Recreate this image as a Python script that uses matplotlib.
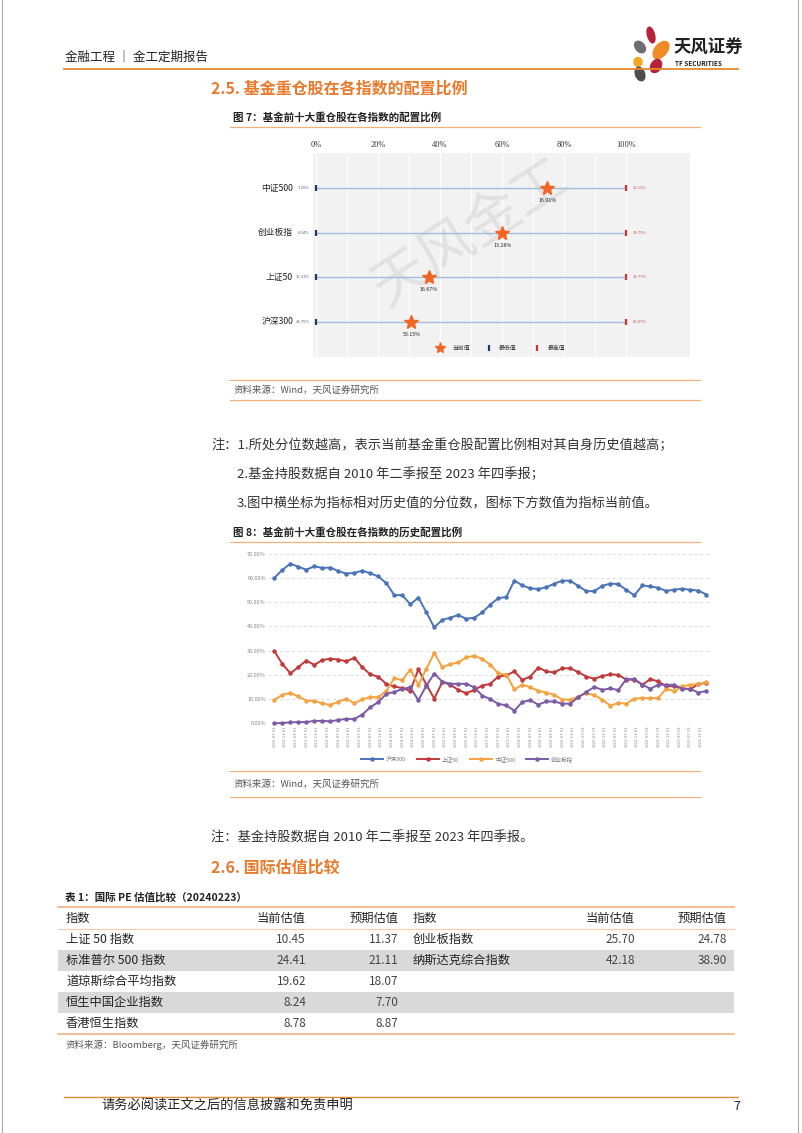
import matplotlib
matplotlib.use('Agg')
import matplotlib.pyplot as plt
import matplotlib.dates as mdates
from matplotlib.patches import Ellipse, Rectangle
import numpy as np
import pandas as pd

plt.rcParams['font.family'] = ['Noto Sans CJK SC', 'DejaVu Sans']

W, H = 802, 1133
ORANGE = '#E97A2B'
LINE_OR = '#F2B07E'
TXT = '#333333'

# ---- 图7 数据 ----
idx_names = ['中证500', '创业板指', '上证50', '沪深300']
pct_rank = [74.6, 60.1, 36.3, 30.8]          # 分位数 %
cur_txt = ['16.91%', '13.28%', '16.67%', '53.15%']
min_txt = ['7.29%', '0.24%', '10.33%', '39.75%']
max_txt = ['29.11%', '20.79%', '29.77%', '66.07%']

# ---- 图8 数据 (2010Q2 - 2023Q4, 季度) ----
dates = pd.date_range('2010-06-30', '2023-12-31', freq='QE')
hs300 = [60.0, 63.3, 65.9, 64.6, 63.4, 64.8, 64.1, 64.3, 62.8, 61.8, 62.1, 63.0, 61.9, 60.6,
         57.8, 52.9, 52.9, 49.1, 51.9, 45.9, 39.6, 42.7, 43.6, 44.7, 43.1, 43.6, 45.8, 49.0,
         51.6, 52.2, 58.9, 56.9, 55.7, 55.4, 56.2, 57.6, 58.9, 58.8, 56.7, 54.5, 54.6, 56.7,
         57.7, 57.4, 55.1, 52.8, 56.9, 56.5, 55.9, 54.6, 55.2, 55.5, 55.1, 54.8, 53.15]
sz50 = [29.8, 24.5, 20.6, 23.2, 25.9, 24.1, 26.1, 26.7, 26.3, 25.6, 27.0, 23.1, 20.2, 19.2,
        16.2, 15.2, 14.5, 13.4, 22.3, 16.0, 10.2, 17.0, 15.9, 13.8, 12.4, 13.8, 15.6, 16.3,
        19.3, 19.8, 21.4, 17.9, 19.3, 23.0, 21.4, 21.0, 22.7, 22.7, 21.1, 19.3, 18.4, 19.5,
        20.2, 20.0, 18.0, 18.0, 15.9, 18.2, 17.3, 15.3, 15.3, 14.5, 14.0, 16.2, 16.67]
zz500 = [9.6, 11.8, 12.5, 11.1, 9.4, 9.2, 8.2, 7.6, 8.9, 10.1, 8.2, 9.9, 10.8, 10.8,
         13.4, 18.6, 17.8, 22.2, 15.8, 22.4, 29.0, 23.2, 24.4, 25.1, 27.3, 27.8, 26.6, 24.2,
         20.6, 20.0, 14.0, 15.9, 14.9, 13.4, 12.7, 11.7, 9.8, 9.8, 11.0, 12.3, 11.7, 9.7,
         7.3, 8.4, 8.1, 10.2, 10.4, 10.4, 10.5, 14.3, 13.2, 15.2, 15.9, 16.2, 16.91]
cyb = [0.0, 0.1, 0.4, 0.5, 0.5, 1.0, 1.0, 0.8, 1.4, 1.8, 1.8, 3.6, 6.6, 8.8,
       12.2, 12.9, 14.2, 14.8, 9.5, 15.5, 20.5, 17.2, 16.3, 16.3, 16.3, 14.8, 11.4, 10.0,
       8.0, 7.4, 5.2, 8.8, 9.5, 7.7, 9.0, 9.0, 8.1, 8.1, 10.8, 12.9, 15.0, 13.8,
       14.4, 13.7, 18.2, 18.2, 16.0, 14.2, 15.9, 15.9, 15.9, 14.2, 14.2, 12.7, 13.28]
series_names = ['沪深300', '上证50', '中证500', '创业板指']
series_colors = ['#4A73B8', '#C0393B', '#F4A23F', '#7B5AA6']
tick_dates = pd.date_range('2010-07-01', '2023-11-01', freq='4MS')

# ---- 表1 数据 ----
tbl_head = ['指数', '当前估值', '预期估值', '指数', '当前估值', '预期估值']
left_names = ['上证 50 指数', '标准普尔 500 指数', '道琼斯综合平均指数', '恒生中国企业指数', '香港恒生指数']
left_cur = ['10.45', '24.41', '19.62', '8.24', '8.78']
left_fwd = ['11.37', '21.11', '18.07', '7.70', '8.87']
right_names = ['创业板指数', '纳斯达克综合指数']
right_cur = ['25.70', '42.18']
right_fwd = ['24.78', '38.90']


def box(x0, y0, x1, y1):
    return [x0 / W, 1 - y1 / H, (x1 - x0) / W, (y1 - y0) / H]


fig = plt.figure(figsize=(W / 100, H / 100), dpi=100)
pg = fig.add_axes([0, 0, 1, 1])
pg.set_xlim(0, W)
pg.set_ylim(H, 0)
pg.axis('off')

# 页边
pg.plot([2, 2], [0, H], color='#AAAAAA', lw=0.8)
pg.plot([798, 798], [0, H], color='#AAAAAA', lw=0.8)

# 页眉
pg.text(65, 57, '金融工程 ｜ 金工定期报告', fontsize=9, color='#222', va='center')
pg.plot([64, 738], [69, 69], color='#E8892F', lw=1.3)
for (cx, cy, w, h, a, c) in [(651, 35, 7, 16, -15, '#B5223A'), (661, 50, 12, 20, 40, '#F08A24'),
                             (640, 47, 9, 13, -40, '#6D6E71'), (638, 62, 8, 9, 0, '#F5A623'),
                             (656, 66, 10, 14, 30, '#B5223A'), (640, 74, 9, 14, -20, '#4D4D4F')]:
    pg.add_patch(Ellipse((cx, cy), w, h, angle=a, color=c))
pg.text(673, 48, '天风证券', fontsize=12.5, fontweight='bold', color='#231F20', va='center')
pg.text(675, 63, 'TF SECURITIES', fontsize=4.6, fontweight='bold', color='#231F20', va='center')

# 2.5 标题
pg.text(211, 89, '2.5. 基金重仓股在各指数的配置比例', fontsize=11.5, fontweight='bold', color=ORANGE, va='center')
pg.text(233, 117, '图 7：基金前十大重仓股在各指数的配置比例', fontsize=7.6, fontweight='bold', color='#222', va='center')
pg.plot([230, 700], [127, 127], color=LINE_OR, lw=0.9)
pg.plot([230, 700], [380, 380], color=LINE_OR, lw=0.9)
pg.text(233, 390, '资料来源：Wind，天风证券研究所', fontsize=6.8, color='#555', va='center')
pg.plot([230, 700], [400, 400], color=LINE_OR, lw=0.9)

# 注释
pg.text(211, 445, '注：1.所处分位数越高，表示当前基金重仓股配置比例相对其自身历史值越高；', fontsize=9.5, color=TXT, va='center')
pg.text(237, 474, '2.基金持股数据自 2010 年二季报至 2023 年四季报；', fontsize=9.5, color=TXT, va='center')
pg.text(237, 503, '3.图中横坐标为指标相对历史值的分位数，图标下方数值为指标当前值。', fontsize=9.5, color=TXT, va='center')

pg.text(233, 532, '图 8：基金前十大重仓股在各指数的历史配置比例', fontsize=7.6, fontweight='bold', color='#222', va='center')
pg.plot([230, 700], [542, 542], color=LINE_OR, lw=0.9)
pg.plot([230, 700], [771, 771], color=LINE_OR, lw=0.9)
pg.text(233, 784, '资料来源：Wind，天风证券研究所', fontsize=6.8, color='#555', va='center')
pg.plot([230, 700], [797, 797], color=LINE_OR, lw=0.9)

pg.text(211, 838, '注：基金持股数据自 2010 年二季报至 2023 年四季报。', fontsize=9.5, color=TXT, va='center')
pg.text(211, 868, '2.6. 国际估值比较', fontsize=11.5, fontweight='bold', color=ORANGE, va='center')
pg.text(65, 898, '表 1：国际 PE 估值比较（20240223）', fontsize=7.6, fontweight='bold', color='#222', va='center')

# 表1
tx0, tx1 = 58, 734
row_y = [939.5, 960.5, 981.5, 1002.5, 1023.5]
for i in (1, 3):
    pg.add_patch(Rectangle((tx0, row_y[i] - 10.5), tx1 - tx0, 21, color='#D9D9D9', lw=0))
pg.plot([tx0, tx1], [907, 907], color='#F4B183', lw=1.2)
pg.plot([tx0, tx1], [929, 929], color='#F8CBAD', lw=0.8)
pg.plot([tx0, tx1], [1034, 1034], color='#F4B183', lw=1.2)
col_x = [66, 306, 398, 413, 635, 727]
col_ha = ['left', 'right', 'right', 'left', 'right', 'right']
for x, ha, t in zip(col_x, col_ha, tbl_head):
    pg.text(x, 918, t, fontsize=8.8, color='#222', ha=ha, va='center')
for i in range(len(left_names)):
    pg.text(col_x[0], row_y[i], left_names[i], fontsize=8.8, color='#222', va='center')
    pg.text(col_x[1], row_y[i], left_cur[i], fontsize=8.5, color='#444', ha='right', va='center')
    pg.text(col_x[2], row_y[i], left_fwd[i], fontsize=8.5, color='#444', ha='right', va='center')
for i in range(len(right_names)):
    pg.text(col_x[3], row_y[i], right_names[i], fontsize=8.8, color='#222', va='center')
    pg.text(col_x[4], row_y[i], right_cur[i], fontsize=8.5, color='#444', ha='right', va='center')
    pg.text(col_x[5], row_y[i], right_fwd[i], fontsize=8.5, color='#444', ha='right', va='center')
pg.text(65, 1045, '资料来源：Bloomberg，天风证券研究所', fontsize=6.8, color='#555', va='center')

# 页脚
pg.plot([64, 738], [1097, 1097], color='#E8892F', lw=1.0)
pg.text(101, 1106, '请务必阅读正文之后的信息披露和免责申明', fontsize=9.5, color='#222', va='center')
pg.text(740, 1106, '7', fontsize=9, color='#222', ha='right', va='center')

# ---- 图7 ----
ax1 = fig.add_axes(box(312.7, 152.7, 690, 356.7))
ax1.set_facecolor('#F2F2F2')
ax1.set_xlim((312.7 - 316) / 3.1, (690 - 316) / 3.1)
ax1.set_ylim(3 + 35 / 44.4, -35.6 / 44.4)
for s in ax1.spines.values():
    s.set_visible(False)
ax1.xaxis.tick_top()
ax1.set_xticks(np.arange(0, 101, 20))
ax1.set_xticklabels([f'{v}%' for v in range(0, 101, 20)], fontfamily='Liberation Serif', fontsize=6, color='#333')
ax1.set_xticks(np.arange(10, 100, 20), minor=True)
ax1.tick_params(which='both', length=0, pad=2.5)
ax1.set_yticks([])
ax1.grid(axis='x', which='both', color='white', lw=0.8)
ax1.set_axisbelow(True)
rows = np.arange(len(idx_names))
ax1.hlines(rows, 0, 100, color='#A3BBDD', lw=1.0, zorder=2)
ax1.plot(np.zeros(4), rows, ls='none', marker='|', ms=5, mew=1.6, color='#1F3864', zorder=3, clip_on=False)
ax1.plot(np.full(4, 100), rows, ls='none', marker='|', ms=5, mew=1.6, color='#D0342C', zorder=3)
ax1.plot(pct_rank, rows, ls='none', marker='*', ms=10, color='#F26522', zorder=4)
for i in rows:
    ax1.text(pct_rank[i], i + 0.28, cur_txt[i], fontsize=3.8, color='#222', ha='center', va='center')
    ax1.text(-7.4, i, idx_names[i], fontsize=6.3, color='#222', ha='right', va='center', clip_on=False)
    ax1.text(-1.9, i, min_txt[i], fontsize=3, color='#4A5F8A', ha='right', va='center', clip_on=False)
    ax1.text(102.2, i, max_txt[i], fontsize=3, color='#C0504D', ha='left', va='center')
ly = (348.3 - 188.3) / 44.4
ax1.plot([40.1], [ly], marker='*', ms=8, color='#F26522')
ax1.text(44.0, ly, '当前值', fontsize=4.2, color='#333', va='center')
ax1.plot([55.7], [ly], marker='|', ms=5, mew=1.6, color='#1F3864')
ax1.text(59.1, ly, '最低值', fontsize=4.2, color='#333', va='center')
ax1.plot([71.3], [ly], marker='|', ms=5, mew=1.6, color='#D0342C')
ax1.text(74.7, ly, '最高值', fontsize=4.2, color='#333', va='center')
ax1.text(50.0, 1.0, '天风金工', fontsize=40, color='#C8C8C8', alpha=0.4, rotation=33,
         ha='center', va='center', zorder=1)

# ---- 图8 ----
ax2 = fig.add_axes(box(268, 553.7, 712, 723.3))
d = mdates.date2num(dates.to_pydatetime())
sc = (706.3 - 274.3) / (d[-1] - d[0])
ax2.set_xlim(d[0] - 6.3 / sc, d[-1] + 5.7 / sc)
ax2.set_ylim(0, 70)
for vals, name, c in zip([hs300, sz50, zz500, cyb], series_names, series_colors):
    ax2.plot(d, vals, color=c, lw=1.4, marker='o', ms=2.2, label=name, clip_on=False)
for s in ax2.spines.values():
    s.set_visible(False)
ax2.set_yticks(np.arange(0, 71, 10))
ax2.set_yticklabels([f'{v:.2f}%' for v in range(0, 71, 10)], fontsize=4, color='#888')
tk = mdates.date2num(tick_dates.to_pydatetime())
ax2.set_xticks(tk)
ax2.set_xticklabels([t.strftime('%Y-%m-%d') for t in tick_dates], rotation=90, fontsize=3, color='#888')
ax2.tick_params(length=0, pad=1.5)
ax2.grid(axis='y', color='#D9D9D9', ls=(0, (4, 3)), lw=0.6)
ax2.set_axisbelow(True)
ax2.legend(ncol=4, loc='center', bbox_to_anchor=(0.448, -0.21), frameon=False, fontsize=4,
           handlelength=4, columnspacing=2, labelcolor='#777', handletextpad=0.5)

fig.savefig('out.png', dpi=100)
